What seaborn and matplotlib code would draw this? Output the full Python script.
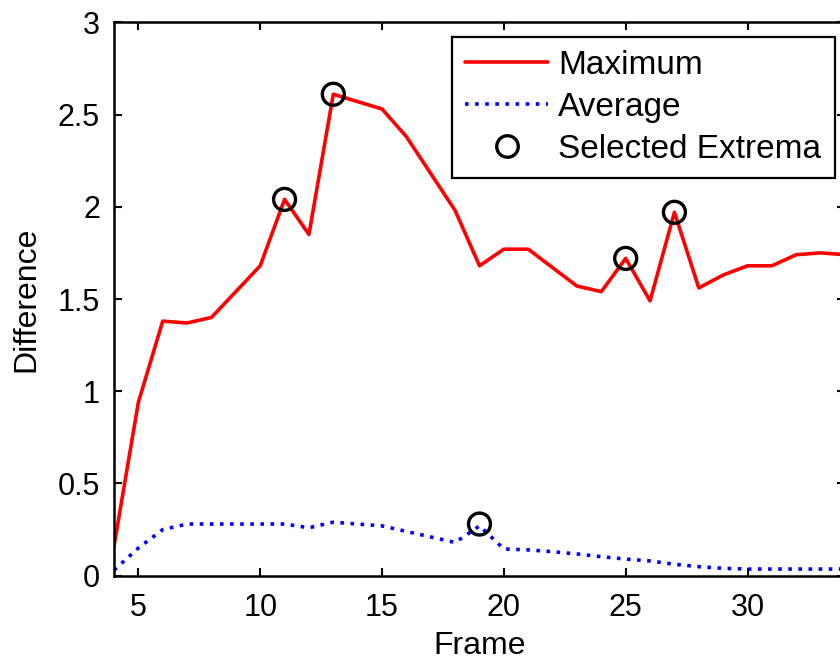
import matplotlib
matplotlib.use("Agg")
import matplotlib.pyplot as plt
import seaborn as sns
import pandas as pd
from matplotlib.lines import Line2D

frames = list(range(4, 35))
maximum = [0.16, 0.94, 1.38, 1.37, 1.40, 1.54, 1.68, 2.04, 1.85, 2.61, 2.57, 2.53,
           2.38, 2.18, 1.98, 1.68, 1.77, 1.77, 1.67, 1.57, 1.54, 1.72, 1.49, 1.97,
           1.56, 1.63, 1.68, 1.68, 1.74, 1.75, 1.74]
average = [0.03, 0.15, 0.25, 0.28, 0.28, 0.28, 0.28, 0.28, 0.26, 0.29, 0.28, 0.27,
           0.24, 0.21, 0.18, 0.27, 0.145, 0.14, 0.13, 0.118, 0.103, 0.09, 0.08, 0.062,
           0.049, 0.04, 0.036, 0.036, 0.036, 0.036, 0.036]
extrema_x = [11, 13, 19, 25, 27]
extrema_y = [2.04, 2.61, 0.28, 1.72, 1.97]
xticks = [5, 10, 15, 20, 25, 30]
yticks = [0, 0.5, 1, 1.5, 2, 2.5, 3]
ytick_labels = ["0", "0.5", "1", "1.5", "2", "2.5", "3"]

sns.set_style("ticks")
plt.rcParams["font.family"] = ["Liberation Sans", "DejaVu Sans"]
plt.rcParams["text.color"] = "black"
plt.rcParams["axes.labelcolor"] = "black"
plt.rcParams["xtick.color"] = "black"
plt.rcParams["ytick.color"] = "black"

df = pd.DataFrame({"Frame": frames, "Maximum": maximum, "Average": average})
ext = pd.DataFrame({"Frame": extrema_x, "Difference": extrema_y})

fig = plt.figure(figsize=(8.4, 6.6), dpi=100)
ax = fig.add_axes([114 / 840, 1 - 575.7 / 660, 731 / 840, 553.4 / 660])

LW = 2.6
sns.lineplot(data=df, x="Frame", y="Maximum", ax=ax, color="#ff0000", lw=LW)
sns.lineplot(data=df, x="Frame", y="Average", ax=ax, color="#0000ff", lw=LW)
ax.lines[-1].set_dashes([1.0, 1.8])
sns.scatterplot(data=ext, x="Frame", y="Difference", ax=ax, marker="o", s=250,
                facecolor="none", edgecolor="black", linewidth=2.4, zorder=5)

ax.set_xlim(4, 34)
ax.set_ylim(0, 3)
ax.set_xticks(xticks)
ax.set_xticklabels([str(t) for t in xticks])
ax.set_yticks(yticks)
ax.set_yticklabels(ytick_labels)
ax.tick_params(direction="in", length=6, width=1.5, labelsize=22, top=True, right=True,
               colors="black")
ax.tick_params(axis="x", pad=12.5)
ax.tick_params(axis="y", pad=10)
for s in ax.spines.values():
    s.set_linewidth(1.8)
    s.set_color("black")
ax.set_xlabel("Frame", fontsize=23, labelpad=6)
ax.set_ylabel("Difference", fontsize=23, labelpad=12)

handles = [
    Line2D([], [], color="#ff0000", lw=LW),
    Line2D([], [], color="#0000ff", lw=LW, dashes=[1.0, 1.8]),
    Line2D([], [], color="black", marker="o", ls="none", markersize=15.5,
           markerfacecolor="none", markeredgewidth=2.4),
]
leg = ax.legend(handles, ["Maximum", "Average", "Selected Extrema"], loc="upper right",
                bbox_to_anchor=(0.986, 0.974), borderaxespad=0, fontsize=24,
                fancybox=False, framealpha=1, edgecolor="black", handlelength=2.5,
                handletextpad=0.3, labelspacing=0.33, borderpad=0.4)
leg.get_frame().set_linewidth(1.6)

fig.savefig("out.png", dpi=100)
